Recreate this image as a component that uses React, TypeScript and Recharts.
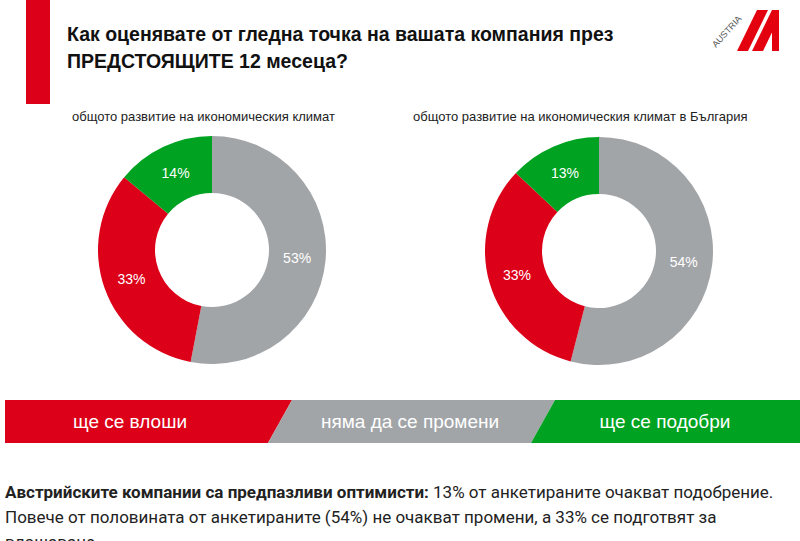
import React from 'react';
import { PieChart, Pie, Cell } from 'recharts';

const categories = ['ще се влоши', 'няма да се промени', 'ще се подобри'];
const categoryColors = ['#DC0019', '#A2A5A8', '#00A321'];
// values per category: worsen, no change, improve
const generalValues = [33, 53, 14];
const bulgariaValues = [33, 54, 13];
const chartTitles = [
  'общото развитие на икономическия климат',
  'общото развитие на икономическия климат в България',
];
const titleLine1 = 'Как оценявате от гледна точка на вашата компания през';
const titleLine2 = 'ПРЕДСТОЯЩИТЕ 12 месеца?';
const noteBold = 'Австрийските компании са предпазливи оптимисти:';
const noteRest = ' 13% от анкетираните очакват подобрение. Повече от половината от анкетираните (54%) не очакват промени, а 33% се подготвят за влошаване.';

// clockwise from top: no change, worsen, improve
const order = [1, 0, 2];
const build = (vals: number[]) =>
  order.map((i) => ({ name: categories[i], value: vals[i], color: categoryColors[i] }));
const generalData = build(generalValues);
const bulgariaData = build(bulgariaValues);

const RAD = Math.PI / 180;
const renderLabel = (p: any) => {
  const r = (p.innerRadius + p.outerRadius) / 2;
  const x = p.cx + r * Math.cos(-p.midAngle * RAD);
  const y = p.cy + r * Math.sin(-p.midAngle * RAD);
  return (
    <text x={x} y={y} fill="#fff" fontSize={14} fontFamily="Liberation Sans, Arial, sans-serif" textAnchor="middle" dominantBaseline="central">
      {`${p.value}%`}
    </text>
  );
};

const font = 'Liberation Sans, Arial, sans-serif';

export default function App() {
  return (
    <div style={{ position: 'absolute', left: 0, top: 0, width: 800, height: 541, overflow: 'hidden', background: '#fff', fontFamily: font }}>
      <div style={{ position: 'absolute', left: 26, top: 0, width: 24, height: 104, background: '#DC0019' }} />
      <div style={{ position: 'absolute', left: 67, top: 21, fontSize: 19.5, fontWeight: 700, lineHeight: '27px', color: '#111', whiteSpace: 'nowrap' }}>
        <div>{titleLine1}</div>
        <div>{titleLine2}</div>
      </div>
      <svg style={{ position: 'absolute', left: 0, top: 0 }} width={800} height={60}>
        <polygon points="737,51 748,51 768,10 757,10" fill="#E3000F" />
        <polygon points="752,51 763,51 779,18 779,10 772,10" fill="#E3000F" />
        <rect x={772} y={10} width={7} height={41} fill="#E3000F" />
        <text x={0} y={0} fontSize={9} fill="#555" fontFamily={font} transform="translate(716,48) rotate(-48)">AUSTRIA</text>
      </svg>
      <div style={{ position: 'absolute', left: 72, top: 109, fontSize: 13, color: '#222', whiteSpace: 'nowrap' }}>{chartTitles[0]}</div>
      <div style={{ position: 'absolute', left: 413, top: 109, fontSize: 13, color: '#222', whiteSpace: 'nowrap' }}>{chartTitles[1]}</div>
      <div style={{ position: 'absolute', left: 0, top: 0 }}>
        <PieChart width={800} height={400} margin={{ top: 0, right: 0, bottom: 0, left: 0 }}>
          <Pie data={generalData} dataKey="value" cx={212} cy={250} innerRadius={57} outerRadius={114} startAngle={90} endAngle={-270} stroke="none" label={renderLabel} labelLine={false} isAnimationActive={false}>
            {generalData.map((d, i) => <Cell key={i} fill={d.color} />)}
          </Pie>
          <Pie data={bulgariaData} dataKey="value" cx={599} cy={251} innerRadius={57} outerRadius={114} startAngle={90} endAngle={-270} stroke="none" label={renderLabel} labelLine={false} isAnimationActive={false}>
            {bulgariaData.map((d, i) => <Cell key={i} fill={d.color} />)}
          </Pie>
        </PieChart>
      </div>
      <svg style={{ position: 'absolute', left: 0, top: 400 }} width={800} height={44}>
        <polygon points="5,0 292,0 268,43 5,43" fill={categoryColors[0]} />
        <polygon points="292,0 555,0 531,43 268,43" fill={categoryColors[1]} />
        <polygon points="555,0 800,0 800,43 531,43" fill={categoryColors[2]} />
        {categories.map((c, i) => (
          <text key={c} x={[130, 410, 665][i]} y={21} fill="#fff" fontSize={19} fontFamily={font} textAnchor="middle" dominantBaseline="central">{c}</text>
        ))}
      </svg>
      <div style={{ position: 'absolute', left: 5, top: 480, width: 785, fontSize: 17, lineHeight: '25px', color: '#222', fontFamily: 'Roboto, sans-serif' }}>
        <b>{noteBold}</b>{noteRest}
      </div>
    </div>
  );
}
